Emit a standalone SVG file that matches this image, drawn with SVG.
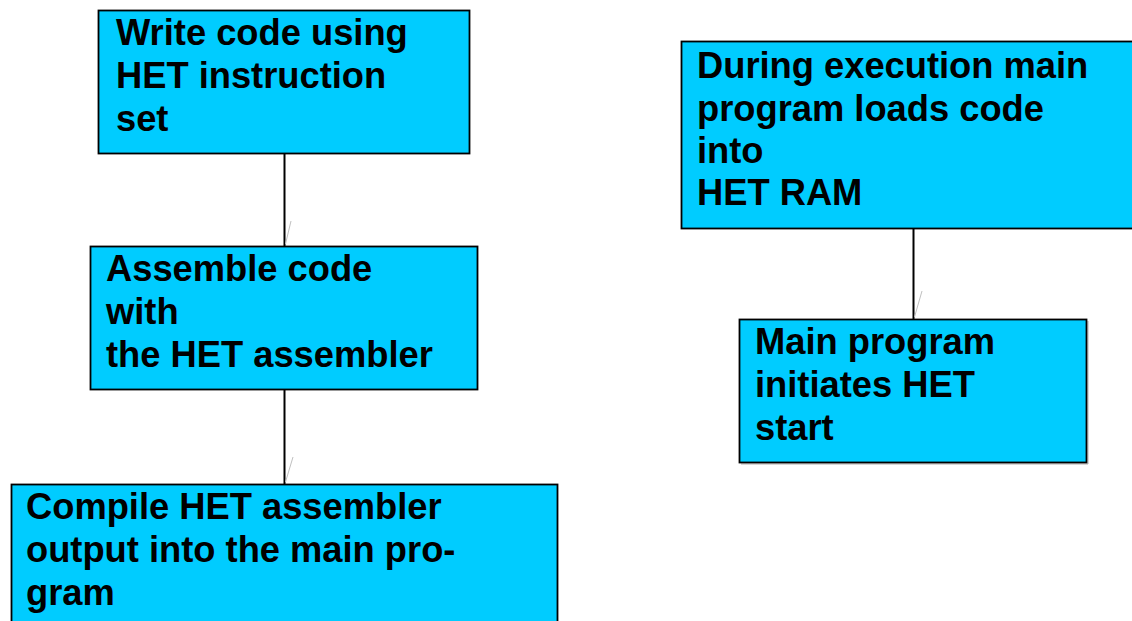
<svg xmlns="http://www.w3.org/2000/svg" width="1132" height="621" viewBox="0 0 1132 621">
<style>
.box{fill:#00CCFF;stroke:#000;stroke-width:1.8}
.shadow{fill:none;stroke:#b0b0b0;stroke-width:1}
.t{font-family:"Liberation Sans",Arial,sans-serif;font-weight:bold;font-size:36.3px;fill:#000}
.c{stroke:#000;stroke-width:2;fill:none}
.tick{stroke:#c0c0c0;stroke-width:1;fill:none}
</style>
<rect width="1132" height="621" fill="#fff"/>
<g id="connectors">
<line class="c" x1="284.5" y1="153" x2="284.5" y2="246"/>
<line class="tick" x1="291" y1="221" x2="285.5" y2="244"/>
<line class="c" x1="284.5" y1="389" x2="284.5" y2="484"/>
<line class="tick" x1="293" y1="457" x2="285.5" y2="482"/>
<line class="c" x1="913.5" y1="228" x2="913.5" y2="319"/>
<line class="tick" x1="922" y1="291" x2="914.5" y2="317"/>
</g>
<g id="n1">
<rect class="box" x="98.5" y="10.5" width="371" height="143"/>
<text class="t" x="116" y="45">Write code using</text>
<text class="t" x="116" y="88">HET instruction</text>
<text class="t" x="116" y="131">set</text>
</g>
<g id="n2">
<rect class="box" x="90.5" y="246.5" width="387" height="143"/>
<text class="t" x="106" y="281">Assemble code</text>
<text class="t" x="106" y="324">with</text>
<text class="t" x="106" y="367">the HET assembler</text>
</g>
<g id="n3">
<rect class="box" x="11.5" y="484.5" width="546" height="145"/>
<text class="t" x="26" y="519">Compile HET assembler</text>
<text class="t" x="26" y="562">output into the main pro-</text>
<text class="t" x="26" y="605">gram</text>
</g>
<g id="n4">
<rect class="box" x="681.5" y="41.5" width="460" height="187"/>
<text class="t" x="697" y="78">During execution main</text>
<text class="t" x="697" y="121">program loads code</text>
<text class="t" x="697" y="163">into</text>
<text class="t" x="697" y="205">HET RAM</text>
</g>
<g id="n5">
<polyline class="shadow" points="741,464 1088,464 1088,321"/>
<rect class="box" x="739.5" y="319.5" width="347" height="143"/>
<text class="t" x="755" y="354">Main program</text>
<text class="t" x="755" y="397">initiates HET</text>
<text class="t" x="755" y="440">start</text>
</g>
</svg>
